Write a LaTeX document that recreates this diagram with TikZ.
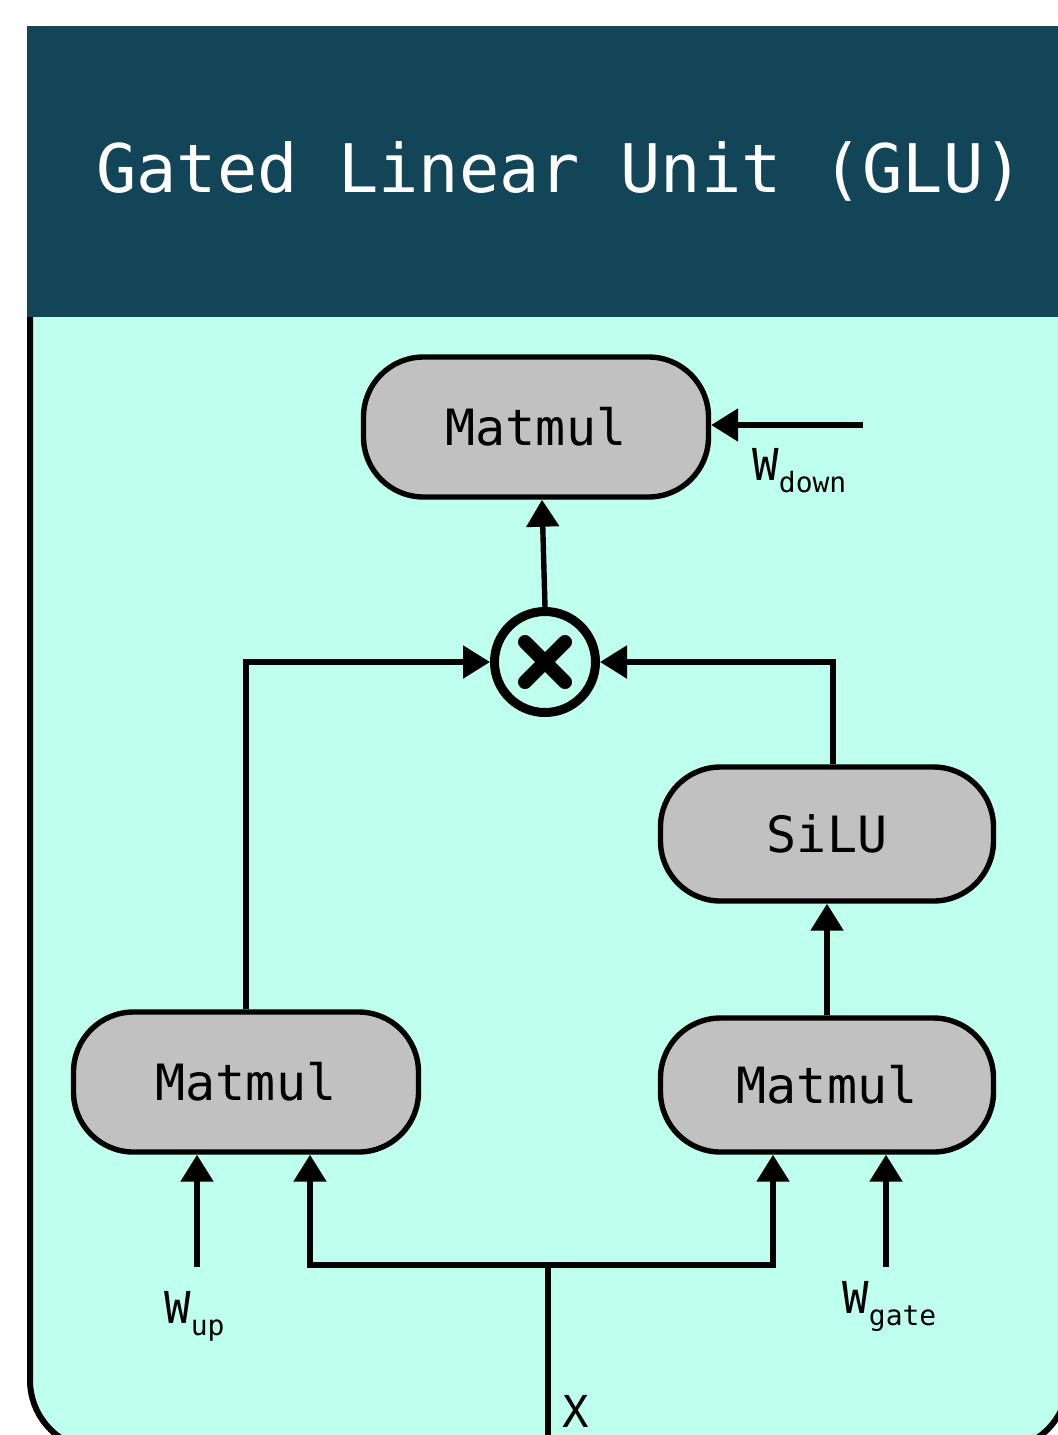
\documentclass[tikz,border=0pt]{standalone}
\usepackage{fontspec}
\setmonofont{DejaVu Sans Mono}
\usetikzlibrary{arrows.meta,calc}
\definecolor{HeadBlue}{HTML}{134559}
\definecolor{PanelCyan}{HTML}{BFFFEE}
\definecolor{BoxGray}{HTML}{C0C1C0}
\newcommand{\wlabel}[1]{{\fontsize{22}{22}\selectfont W}\raisebox{-6pt}{\fontsize{14}{14}\selectfont #1}}

\begin{document}
\begin{tikzpicture}
   [x=0.5pt, y=-0.5pt,
   opbox/.style={draw, line width=2.7pt, fill=BoxGray, rounded corners=30pt,
     minimum width=172.5pt, minimum height=70pt, font=\ttfamily\fontsize{25}{25}\selectfont},
   flow/.style={-{Triangle[length=13.5pt,width=16pt]}, line width=2.7pt},
   wire/.style={line width=2.7pt},
   tag/.style={inner sep=0pt, anchor=base west, font=\ttfamily}]
    \useasboundingbox (0,0) rectangle (1058,1435);
    \clip (0,0) rectangle (1058,1435);
    % panel and header
    \draw[fill=PanelCyan, line width=3pt, rounded corners=35pt] (30,200) rectangle (1068,1450);
    \fill[HeadBlue] (27,26) rectangle (1070,317);
    \node[text=white, font=\ttfamily\fontsize{33.5}{33.5}\selectfont, anchor=base, inner sep=0pt]
      (title) at (560,192) {Gated Linear Unit (GLU)};
    % blocks
    \node[opbox] (down) at (536,427) {Matmul};
    \node[opbox, minimum width=166.5pt, minimum height=67pt] (silu) at (827,834) {SiLU};
    \node[opbox] (upmat) at (246,1082) {Matmul};
    \node[opbox, minimum width=166.5pt, minimum height=67pt] (gatemat) at (827,1085) {Matmul};
    \node[circle, draw, line width=4.5pt, minimum size=50.5pt, inner sep=0pt] (mul) at (545,662) {};
    \draw[line width=7pt, line cap=round] ($(mul)+(-20,-20)$) -- ($(mul)+(20,20)$)
      ($(mul)+(-20,20)$) -- ($(mul)+(20,-20)$);
    % inputs
    \coordinate (wdownin) at (863,425);
    \coordinate (wupin) at (197,1267);
    \coordinate (wgatein) at (886,1267);
    \coordinate (xin) at (548,1440);
    \coordinate (xsplit) at (548,1265);
    % connectors
    \draw[flow] (wdownin) -- (wdownin -| down.east);
    \draw[flow] (mul.north) -- ([xshift=3pt]down.south);
    \draw[flow] (upmat.north) |- (mul.west);
    \draw[flow] ([xshift=3pt]silu.north) |- (mul.east);
    \draw[flow] (gatemat.north) -- (silu.south);
    \draw[wire] (xin) -- (xsplit);
    \draw[flow] (xsplit) -| ([xshift=32pt]upmat.south);
    \draw[flow] (xsplit) -| ([xshift=-27pt]gatemat.south);
    \draw[flow] (wupin) -- (wupin |- upmat.south);
    \draw[flow] (wgatein) -- (wgatein |- gatemat.south);
    % labels
    \node[tag] (wdown) at (752,480) {\wlabel{down}};
    \node[tag] (wup) at (164,1323) {\wlabel{up}};
    \node[tag] (wgate) at (842,1313) {\wlabel{gate}};
    \node[tag, font=\ttfamily\fontsize{22}{22}\selectfont] (xlab) at (562,1427) {X};
\end{tikzpicture}
\end{document}
